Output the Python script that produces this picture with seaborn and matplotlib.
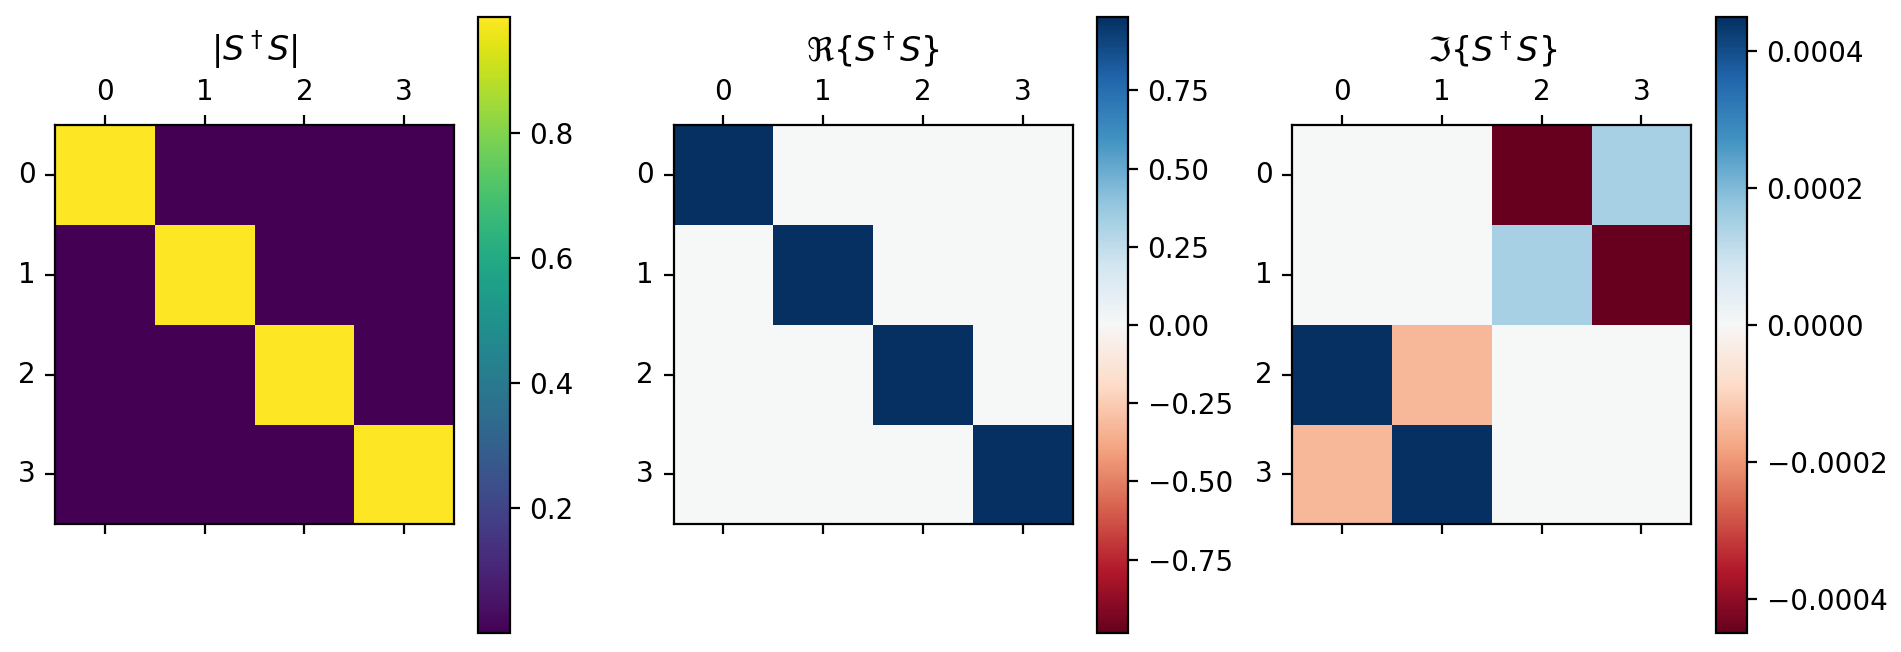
import numpy as np
import matplotlib
matplotlib.use('Agg')
import matplotlib.pyplot as plt
import matplotlib.ticker as ticker
import seaborn as sns

re_part = [
    [0.985, 0.0002, 0.0001, 0.0001],
    [0.0002, 0.985, 0.0001, 0.0001],
    [0.0001, 0.0001, 0.985, 0.0002],
    [0.0001, 0.0001, 0.0002, 0.985],
]
im_part = [
    [0.0, 0.0, -0.00045, 0.00015],
    [0.0, 0.0, 0.00015, -0.00045],
    [0.00045, -0.00015, 0.0, 0.0],
    [-0.00015, 0.00045, 0.0, 0.0],
]
idx_labels = ['0', '1', '2', '3']
titles = [r'$|S^\dagger S|$', r'$\Re\{S^\dagger S\}$', r'$\Im\{S^\dagger S\}$']

re_arr = np.array(re_part)
im_arr = np.array(im_part)
abs_arr = np.abs(re_arr + 1j * im_arr)

W, H = 1901, 652
fig = plt.figure(figsize=(W / 200, H / 200), dpi=200)

ax_lefts = [55, 673.5, 1292.3]
cb_lefts = [478.4, 1096.7, 1715.7]
ax_size = 399
ax_bottom = H - 524.3
cb_bottom = H - 633.3
cb_w, cb_h = 31.4, 616.6

mats = [abs_arr, re_arr, im_arr]
cmaps = ['viridis', 'RdBu', 'RdBu']
cb_nbins = [5, 8, 5]

for i, (mat, cmap, title) in enumerate(zip(mats, cmaps, titles)):
    ax = fig.add_axes([ax_lefts[i] / W, ax_bottom / H, ax_size / W, ax_size / H])
    cax = fig.add_axes([cb_lefts[i] / W, cb_bottom / H, cb_w / W, cb_h / H])
    if cmap == 'RdBu':
        lim = np.abs(mat).max()
        vmin, vmax = -lim, lim
    else:
        vmin, vmax = mat.min(), mat.max()
    sns.heatmap(mat, ax=ax, cbar_ax=cax, cmap=cmap, vmin=vmin, vmax=vmax,
                xticklabels=idx_labels, yticklabels=idx_labels)
    for s in ax.spines.values():
        s.set_visible(True)
        s.set_linewidth(0.8)
    ax.xaxis.set_ticks_position('both')
    ax.tick_params(axis='x', labeltop=True, labelbottom=False, rotation=0)
    ax.tick_params(axis='y', rotation=0)
    ax.set_title(title, fontsize=12)
    cb = ax.collections[0].colorbar
    cb.locator = ticker.MaxNLocator(nbins=cb_nbins[i], steps=[1, 2, 2.5, 5, 10])
    cb.update_ticks()
    cb.outline.set_linewidth(0.8)
    cb.outline.set_visible(True)

plt.savefig('out.png', dpi=200)
plt.close()
